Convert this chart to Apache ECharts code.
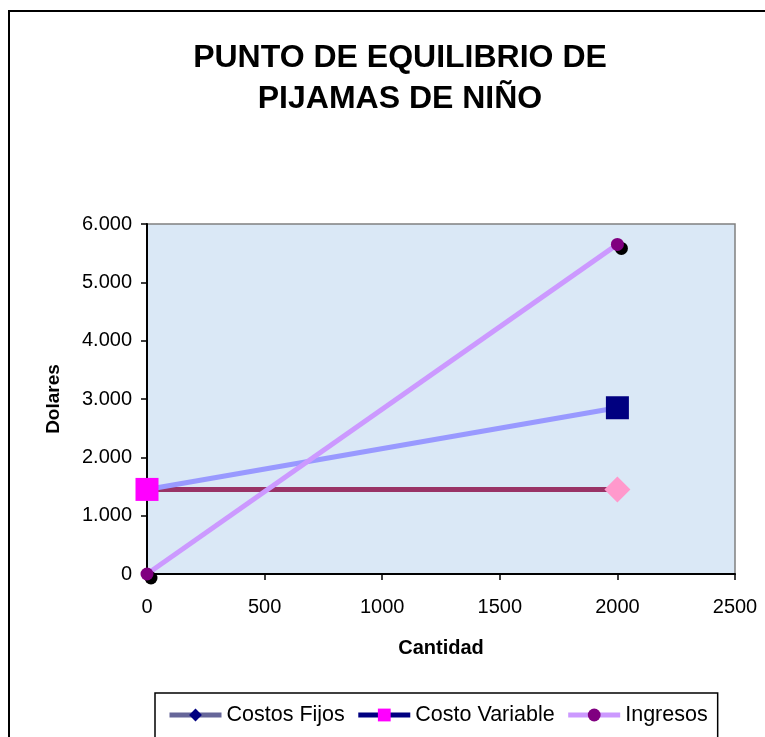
<!DOCTYPE html>
<html><head><meta charset="utf-8">
<script src="https://cdn.jsdelivr.net/npm/echarts@6/dist/echarts.min.js"></script>
<style>html,body{margin:0;padding:0;background:#fff}#c{width:765px;height:737px}</style>
</head><body><div id="c"></div>
<script>
const cantidad = [0, 2000];
const costosFijos = [1450, 1450];
const costoVariable = [1450, 2850];
const ingresos = [0, 5650];
const xTicks = [0, 500, 1000, 1500, 2000, 2500];
const yTicks = [0, 1000, 2000, 3000, 4000, 5000, 6000];

const chart = echarts.init(document.getElementById('c'));
const F = 'Liberation Sans, Arial, sans-serif';
function fmt(v){ return String(v).replace(/\B(?=(\d{3})+(?!\d))/g, '.'); }
function pts(ys, styles){ return cantidad.map((x,i)=>({value:[x, ys[i]], symbol: styles[i].symbol, symbolSize: styles[i].size, itemStyle: styles[i].itemStyle})); }

chart.setOption({
  animation: false,
  textStyle: {fontFamily: F},
  graphic: [{type:'rect', shape:{x:9, y:11, width:800, height:800}, style:{fill:'none', stroke:'#000', lineWidth:2}, z:-1}],
  title: {text: 'PUNTO DE EQUILIBRIO DE\nPIJAMAS DE NIÑO', left: 395, textAlign: 'center', top: 33,
    textStyle: {fontFamily: F, fontWeight: 'bold', fontSize: 32, lineHeight: 41, color: '#000'}},
  grid: {left: 147, right: 30, top: 224, bottom: 163, show: true, backgroundColor: '#DAE8F6', borderColor: '#808080', borderWidth: 1.5},
  xAxis: {type: 'value', min: xTicks[0], max: xTicks[xTicks.length-1], interval: 500,
    name: 'Cantidad', nameLocation: 'middle', nameGap: 64,
    nameTextStyle: {fontFamily: F, fontWeight: 'bold', fontSize: 20, color: '#000'},
    axisLine: {show: true, lineStyle: {color: '#000', width: 2}},
    axisTick: {show: true, length: 6, lineStyle: {color: '#000', width: 1.5}},
    axisLabel: {fontFamily: F, fontSize: 20, color: '#000', margin: 23, formatter: v => String(v)},
    splitLine: {show: false}},
  yAxis: {type: 'value', min: yTicks[0], max: yTicks[yTicks.length-1], interval: 1000,
    name: 'Dolares', nameLocation: 'middle', nameGap: 84, nameRotate: 90,
    nameTextStyle: {fontFamily: F, fontWeight: 'bold', fontSize: 19, color: '#000'},
    axisLine: {show: true, lineStyle: {color: '#000', width: 2}},
    axisTick: {show: true, length: 6, lineStyle: {color: '#000', width: 1.5}},
    axisLabel: {fontFamily: F, fontSize: 20, color: '#000', margin: 15, formatter: fmt},
    splitLine: {show: false}},
  legend: {left: 155, top: 693, borderColor: '#000', borderWidth: 1.5, padding: [11, 10, 14, 12],
    itemWidth: 52, itemHeight: 16, itemGap: 11,
    textStyle: {fontFamily: F, fontSize: 21.5, color: '#000'},
    data: [
      {name: 'Costos Fijos', itemStyle: {color: '#000080'}, lineStyle: {color: '#666699', width: 5}},
      {name: 'Costo Variable', itemStyle: {color: '#FF00FF'}, lineStyle: {color: '#000080', width: 5}},
      {name: 'Ingresos', itemStyle: {color: '#800080'}, lineStyle: {color: '#CC99FF', width: 5}}
    ]},
  series: [
    {name: 'Costos Fijos', type: 'line', clip: false, symbol: 'diamond', lineStyle: {color: '#993366', width: 5},
     itemStyle: {color: '#000080'},
     data: pts(costosFijos, [
       {symbol: 'diamond', size: 11, itemStyle: {color: '#000080'}},
       {symbol: 'diamond', size: 26, itemStyle: {color: '#FF99CC'}}])},
    {name: 'Costo Variable', type: 'line', clip: false, symbol: 'rect', lineStyle: {color: '#9999FF', width: 5},
     itemStyle: {color: '#FF00FF'},
     data: pts(costoVariable, [
       {symbol: 'rect', size: 23, itemStyle: {color: '#FF00FF'}},
       {symbol: 'rect', size: 23, itemStyle: {color: '#000080'}}])},
    {name: 'Ingresos', type: 'line', clip: false, symbol: 'circle', lineStyle: {color: '#CC99FF', width: 5},
     itemStyle: {color: '#800080'},
     data: pts(ingresos, [
       {symbol: 'circle', size: 13, itemStyle: {color: '#800080', shadowColor: '#000', shadowBlur: 0, shadowOffsetX: 4, shadowOffsetY: 4}},
       {symbol: 'circle', size: 13, itemStyle: {color: '#800080', shadowColor: '#000', shadowBlur: 0, shadowOffsetX: 4, shadowOffsetY: 4}}])}
  ]
});
</script></body></html>
